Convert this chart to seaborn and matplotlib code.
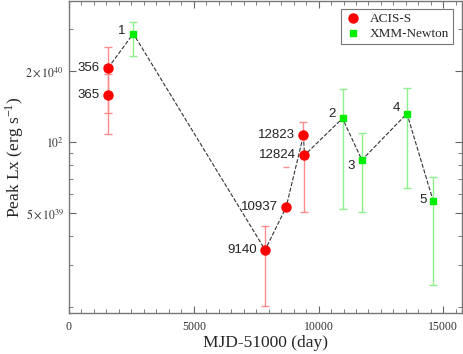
import numpy as np
import pandas as pd
import matplotlib
matplotlib.use('Agg')
import matplotlib.pyplot as plt
from matplotlib.ticker import FixedLocator, MultipleLocator, LogLocator, NullFormatter
import seaborn as sns

# Chandra ACIS-S observations
acis_id   = ['356', '365', '9140', '10937', '12823', '12824']
acis_t    = [1564, 1560, 7859, 8701, 9394, 9435]
acis_lx   = [2.06e40, 1.58e40, 3.49e39, 5.29e39, 1.07e40, 8.79e39]
acis_hi   = [2.52e40, 1.95e40, 4.42e39, 5.29e39, 1.22e40, 8.79e39]
acis_lo   = [1.33e40, 1.08e40, 2.02e39, 5.29e39, 1.07e40, 5.07e39]
cap_10937 = 7.83e39

# XMM-Newton observations
xmm_id = ['1', '2', '3', '4', '5']
xmm_t  = [2578, 10959, 11736, 13540, 14595]
xmm_lx = [2.88e40, 1.26e40, 8.39e39, 1.32e40, 5.62e39]
xmm_hi = [3.23e40, 1.67e40, 1.09e40, 1.69e40, 7.08e39]
xmm_lo = [2.32e40, 5.19e39, 5.04e39, 6.37e39, 2.48e39]

# time-ordered path for dashed line (365 not connected)
path_id = ['356', '1', '9140', '10937', '12823', '12824', '2', '3', '4', '5']

acis = pd.DataFrame({'id': acis_id, 't': acis_t, 'lx': acis_lx, 'hi': acis_hi, 'lo': acis_lo})
xmm = pd.DataFrame({'id': xmm_id, 't': xmm_t, 'lx': xmm_lx, 'hi': xmm_hi, 'lo': xmm_lo})
alld = pd.concat([acis, xmm]).set_index('id')
path = alld.loc[path_id].reset_index()

sns.set_style('ticks')
plt.rcParams['font.family'] = ['Liberation Serif', 'DejaVu Serif']
plt.rcParams['mathtext.fontset'] = 'stix'

fig = plt.figure(figsize=(4.63, 3.54), dpi=100)
ax = fig.add_axes([0.149, 0.116, 0.849, 0.881])

sns.lineplot(data=path, x='t', y='lx', sort=False, ax=ax, color='#333333',
             linewidth=0.8, dashes=(7, 6), linestyle='--', zorder=1)

ax.errorbar(acis['t'], acis['lx'], yerr=[acis['lx'] - acis['lo'], acis['hi'] - acis['lx']],
            fmt='none', ecolor='#ff8c8c', elinewidth=1.0, capsize=3, capthick=1.0, zorder=2)
ax.errorbar(xmm['t'], xmm['lx'], yerr=[xmm['lx'] - xmm['lo'], xmm['hi'] - xmm['lx']],
            fmt='none', ecolor='#8cf08c', elinewidth=1.0, capsize=3, capthick=1.0, zorder=2)
ax.plot([acis_t[3]], [cap_10937], marker='_', color='#ff8c8c', markersize=5, linestyle='none')

ax.plot(acis['t'], acis['lx'], 'o', color='#ff0000', markersize=6.5, label='ACIS-S', zorder=3)
ax.plot(xmm['t'], xmm['lx'], 's', color='#00ee00', markersize=5, label='XMM-Newton', zorder=3)

lblfont = dict(family='Liberation Sans', size=9.5, color='#222222')
for i, r in acis.iterrows():
    ax.annotate(r['id'], (r['t'], r['lx']), xytext=(-6, 0), textcoords='offset points',
                ha='right', va='center', **lblfont)
offs = {'1': (-6, 2), '2': (-5, 3), '3': (-5, -4), '4': (-5, 4), '5': (-5, 1)}
for i, r in xmm.iterrows():
    ax.annotate(r['id'], (r['t'], r['lx']), xytext=offs[r['id']], textcoords='offset points',
                ha='right', va='center', **lblfont)

ax.set_yscale('log')
ax.set_xlim(0, 15750)
ax.set_ylim(1.885e39, 3.96e40)
ax.xaxis.set_major_locator(MultipleLocator(5000))
ax.xaxis.set_minor_locator(MultipleLocator(500))
ax.yaxis.set_major_locator(FixedLocator([5e39, 1e40, 2e40]))
ax.set_yticklabels([r'$5\times10^{39}$', r'$10^{2}$', r'$2\times10^{40}$'])
ax.yaxis.set_minor_locator(LogLocator(base=10, subs=np.arange(2, 10)))
ax.yaxis.set_minor_formatter(NullFormatter())

ax.tick_params(which='both', direction='in', top=True, right=True, color='#666666', labelsize=8.5,
               labelcolor='#333333')
ax.tick_params(which='major', length=5)
ax.tick_params(which='minor', length=3)
ax.tick_params(axis='x', pad=6)
for s in ax.spines.values():
    s.set_color('#777777')
    s.set_linewidth(1.0)

ax.set_xlabel('MJD-51000 (day)', fontsize=12.5, labelpad=1)
ax.set_ylabel(r'Peak Lx (erg s$^{\mathregular{-1}}$)', fontsize=12.5)
ax.yaxis.set_label_coords(-0.11, 0.5)

leg = ax.legend(loc='upper right', fontsize=9.5, frameon=True, fancybox=False,
                handlelength=1.2, handletextpad=0.7, borderpad=0.3, labelspacing=0.2,
                borderaxespad=0, bbox_to_anchor=(0.977, 0.974))
leg.get_frame().set_edgecolor('#555555')
leg.get_frame().set_linewidth(0.8)

fig.savefig('out.png', dpi=100)
